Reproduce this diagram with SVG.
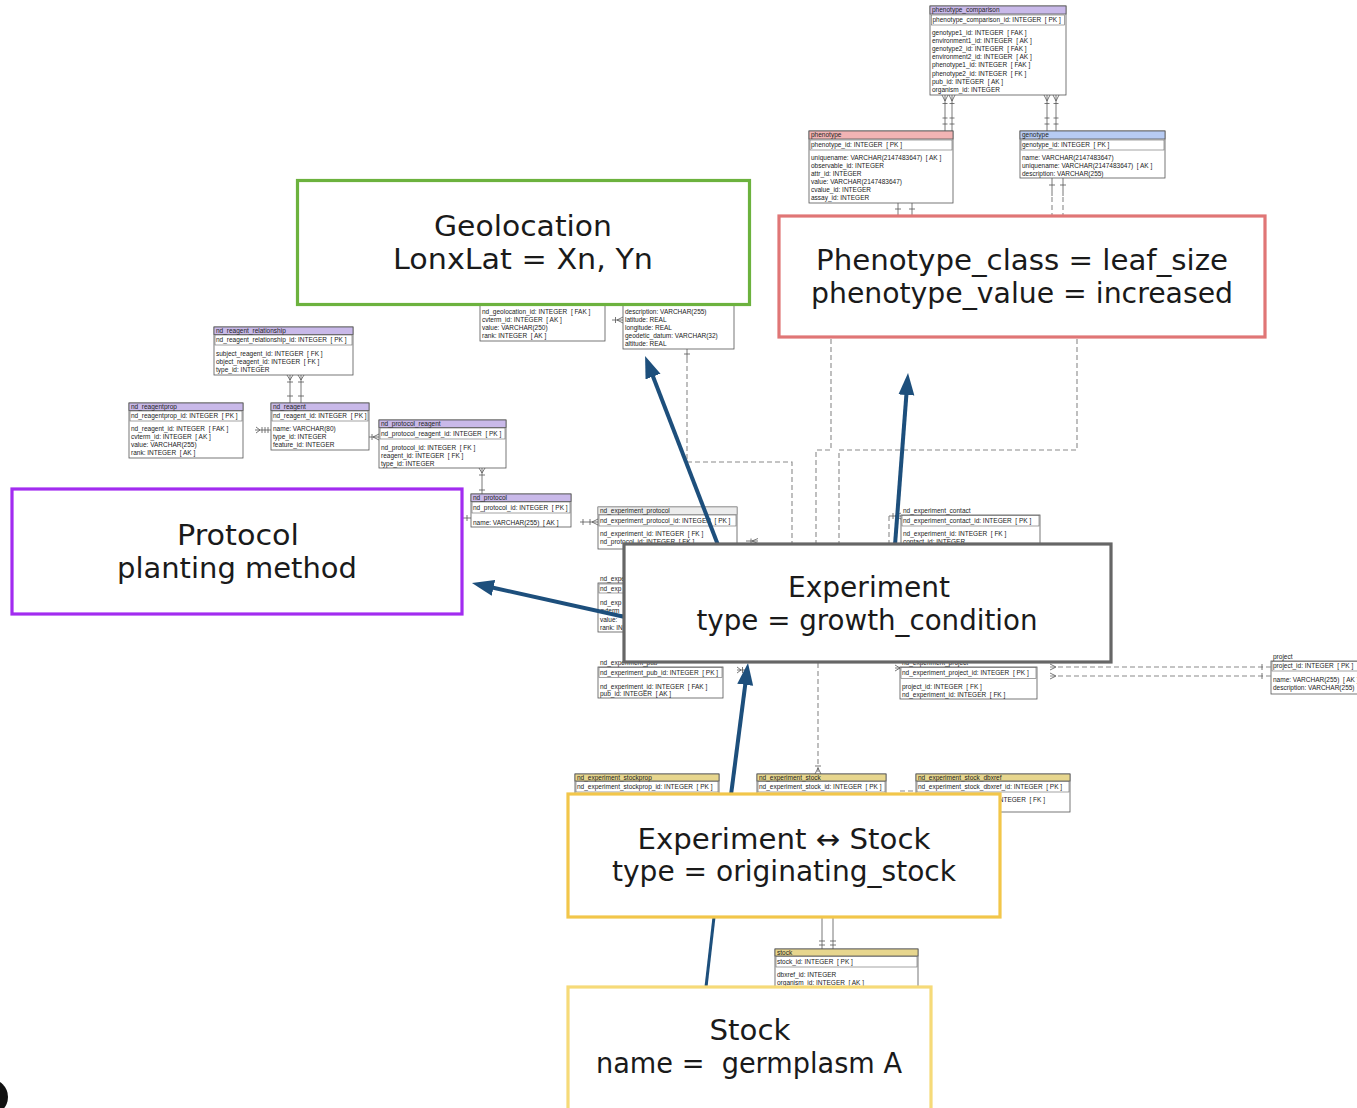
<svg xmlns="http://www.w3.org/2000/svg" width="1357" height="1108" viewBox="0 0 1357 1108">
<defs>
<style>
.t{font-family:"Liberation Sans",Arial,sans-serif;font-size:6.5px;fill:#222;white-space:pre}
.tb{fill:#fff;stroke:#555;stroke-width:.8}
.pk{fill:none;stroke:#666;stroke-width:.6}
.hp{fill:#c9b9e9;stroke:#555;stroke-width:.8}
.hr{fill:#f2b4b4;stroke:#555;stroke-width:.8}
.hb{fill:#b7cbf3;stroke:#555;stroke-width:.8}
.hy{fill:#e7d68e;stroke:#555;stroke-width:.8}
.hg{fill:#ececec;stroke:#888;stroke-width:.6}
.ln{fill:none;stroke:#555;stroke-width:.8}
.dl{fill:none;stroke:#8a8a8a;stroke-width:1.1;stroke-dasharray:5 3}
.ar{fill:none;stroke:#1d4f7c;stroke-width:4;marker-end:url(#ah)}
.bx{fill:#fff;stroke-width:3.2}
.big{font-family:"DejaVu Sans",sans-serif;font-size:28px;fill:#1a1a1a;text-anchor:middle;white-space:pre}
</style>
<marker id="ah" markerUnits="userSpaceOnUse" markerWidth="24" markerHeight="18" refX="7" refY="9" orient="auto"><path d="M0,1 L22,9 L0,17 z" fill="#1d4f7c"/></marker>
</defs>
<rect width="1357" height="1108" fill="#fff"/>

<g id="tables">
<g id="t-phenotype-comparison">
<rect class="tb" x="930" y="6" width="136" height="89"/>
<rect class="hp" x="930" y="6" width="136" height="8"/>
<text class="t" x="932" y="12.3">phenotype_comparison</text>
<rect class="pk" x="931.5" y="15" width="133" height="10"/>
<text class="t" x="932.5" y="22.2">phenotype_comparison_id: INTEGER  [ PK ]</text>
<text class="t" x="932" y="35">genotype1_id: INTEGER  [ FAK ]</text>
<text class="t" x="932" y="43.1">environment1_id: INTEGER  [ AK ]</text>
<text class="t" x="932" y="51.2">genotype2_id: INTEGER  [ FAK ]</text>
<text class="t" x="932" y="59.3">environment2_id: INTEGER  [ AK ]</text>
<text class="t" x="932" y="67.4">phenotype1_id: INTEGER  [ FAK ]</text>
<text class="t" x="932" y="75.5">phenotype2_id: INTEGER  [ FK ]</text>
<text class="t" x="932" y="83.6">pub_id: INTEGER  [ AK ]</text>
<text class="t" x="932" y="91.7">organism_id: INTEGER</text>
</g>
<g id="t-phenotype">
<rect class="tb" x="809" y="131" width="144" height="72"/>
<rect class="hr" x="809" y="131" width="144" height="8"/>
<text class="t" x="811" y="137.3">phenotype</text>
<rect class="pk" x="810" y="140" width="142" height="10"/>
<text class="t" x="811" y="147">phenotype_id: INTEGER  [ PK ]</text>
<text class="t" x="811" y="159.5">uniquename: VARCHAR(2147483647)  [ AK ]</text>
<text class="t" x="811" y="167.6">observable_id: INTEGER</text>
<text class="t" x="811" y="175.7">attr_id: INTEGER</text>
<text class="t" x="811" y="183.8">value: VARCHAR(2147483647)</text>
<text class="t" x="811" y="191.9">cvalue_id: INTEGER</text>
<text class="t" x="811" y="200">assay_id: INTEGER</text>
</g>
<g id="t-genotype">
<rect class="tb" x="1020" y="131" width="145" height="47"/>
<rect class="hb" x="1020" y="131" width="145" height="8"/>
<text class="t" x="1022" y="137.3">genotype</text>
<rect class="pk" x="1021" y="140" width="143" height="10"/>
<text class="t" x="1022" y="147">genotype_id: INTEGER  [ PK ]</text>
<text class="t" x="1022" y="159.5">name: VARCHAR(2147483647)</text>
<text class="t" x="1022" y="167.5">uniquename: VARCHAR(2147483647)  [ AK ]</text>
<text class="t" x="1022" y="175.5">description: VARCHAR(255)</text>
</g>
<g id="t-geolocationprop">
<rect class="tb" x="480" y="290" width="125" height="51"/>
<text class="t" x="482" y="314">nd_geolocation_id: INTEGER  [ FAK ]</text>
<text class="t" x="482" y="322">cvterm_id: INTEGER  [ AK ]</text>
<text class="t" x="482" y="330">value: VARCHAR(250)</text>
<text class="t" x="482" y="338">rank: INTEGER  [ AK ]</text>
</g>
<g id="t-geolocation">
<rect class="tb" x="623" y="290" width="111" height="59"/>
<text class="t" x="625" y="314">description: VARCHAR(255)</text>
<text class="t" x="625" y="322">latitude: REAL</text>
<text class="t" x="625" y="330">longitude: REAL</text>
<text class="t" x="625" y="338">geodetic_datum: VARCHAR(32)</text>
<text class="t" x="625" y="346">altitude: REAL</text>
</g>
<g id="t-reagent-relationship">
<rect class="tb" x="214" y="327" width="139" height="48"/>
<rect class="hp" x="214" y="327" width="139" height="7.5"/>
<text class="t" x="216" y="332.8">nd_reagent_relationship</text>
<rect class="pk" x="215" y="335" width="137" height="10"/>
<text class="t" x="216" y="342">nd_reagent_relationship_id: INTEGER  [ PK ]</text>
<text class="t" x="216" y="355.5">subject_reagent_id: INTEGER  [ FK ]</text>
<text class="t" x="216" y="363.5">object_reagent_id: INTEGER  [ FK ]</text>
<text class="t" x="216" y="371.5">type_id: INTEGER</text>
</g>
<g id="t-reagentprop">
<rect class="tb" x="129" y="403" width="114" height="55"/>
<rect class="hp" x="129" y="403" width="114" height="7.5"/>
<text class="t" x="131" y="408.8">nd_reagentprop</text>
<rect class="pk" x="130" y="411" width="112" height="10"/>
<text class="t" x="131" y="418">nd_reagentprop_id: INTEGER  [ PK ]</text>
<text class="t" x="131" y="431">nd_reagent_id: INTEGER  [ FAK ]</text>
<text class="t" x="131" y="439">cvterm_id: INTEGER  [ AK ]</text>
<text class="t" x="131" y="447">value: VARCHAR(255)</text>
<text class="t" x="131" y="455">rank: INTEGER  [ AK ]</text>
</g>
<g id="t-reagent">
<rect class="tb" x="271" y="403" width="98" height="47"/>
<rect class="hp" x="271" y="403" width="98" height="7.5"/>
<text class="t" x="273" y="408.8">nd_reagent</text>
<rect class="pk" x="272" y="411" width="96" height="10"/>
<text class="t" x="273" y="418">nd_reagent_id: INTEGER  [ PK ]</text>
<text class="t" x="273" y="431">name: VARCHAR(80)</text>
<text class="t" x="273" y="439">type_id: INTEGER</text>
<text class="t" x="273" y="447">feature_id: INTEGER</text>
</g>
<g id="t-protocol-reagent">
<rect class="tb" x="379" y="420" width="127" height="48"/>
<rect class="hp" x="379" y="420" width="127" height="7.5"/>
<text class="t" x="381" y="425.8">nd_protocol_reagent</text>
<rect class="pk" x="380" y="428" width="125" height="11"/>
<text class="t" x="381" y="436">nd_protocol_reagent_id: INTEGER  [ PK ]</text>
<text class="t" x="381" y="450">nd_protocol_id: INTEGER  [ FK ]</text>
<text class="t" x="381" y="458">reagent_id: INTEGER  [ FK ]</text>
<text class="t" x="381" y="466">type_id: INTEGER</text>
</g>
<g id="t-protocol">
<rect class="tb" x="471" y="494" width="100" height="33"/>
<rect class="hp" x="471" y="494" width="100" height="7.5"/>
<text class="t" x="473" y="499.8">nd_protocol</text>
<rect class="pk" x="472" y="502" width="98" height="11"/>
<text class="t" x="473" y="509.5">nd_protocol_id: INTEGER  [ PK ]</text>
<text class="t" x="473" y="524.5">name: VARCHAR(255)  [ AK ]</text>
</g>
<g id="t-experiment-protocol">
<rect class="tb" x="598" y="507" width="139" height="42"/>
<rect class="hg" x="598" y="507" width="139" height="7.5"/>
<text class="t" x="600" y="512.8">nd_experiment_protocol</text>
<rect class="pk" x="599" y="515" width="137" height="11"/>
<text class="t" x="600" y="522.5">nd_experiment_protocol_id: INTEGER  [ PK ]</text>
<text class="t" x="600" y="535.5">nd_experiment_id: INTEGER  [ FK ]</text>
<text class="t" x="600" y="544">nd_protocol_id: INTEGER  [ FK ]</text>
</g>
<g id="t-experimentprop">
<rect class="tb" x="598" y="583" width="60" height="49"/>
<text class="t" x="600" y="580.5">nd_expe</text>
<rect class="pk" x="599" y="584" width="58" height="9"/>
<text class="t" x="600" y="590.5">nd_exp</text>
<text class="t" x="600" y="604.5">nd_exp</text>
<text class="t" x="600" y="613">cvterm_</text>
<text class="t" x="600" y="621.5">value:</text>
<text class="t" x="600" y="630">rank: IN</text>
</g>
<g id="t-experiment-pub">
<rect class="tb" x="598" y="667" width="125" height="31"/>
<text class="t" x="600" y="665">nd_experiment_pub</text>
<rect class="pk" x="599" y="667.5" width="123" height="10"/>
<text class="t" x="600" y="674.5">nd_experiment_pub_id: INTEGER  [ PK ]</text>
<text class="t" x="600" y="688.5">nd_experiment_id: INTEGER  [ FAK ]</text>
<text class="t" x="600" y="696">pub_id: INTEGER  [ AK ]</text>
</g>
<g id="t-experiment-contact">
<rect class="tb" x="901" y="515" width="139" height="34"/>
<text class="t" x="903" y="513">nd_experiment_contact</text>
<rect class="pk" x="902" y="515.5" width="137" height="10.5"/>
<text class="t" x="903" y="522.5">nd_experiment_contact_id: INTEGER  [ PK ]</text>
<text class="t" x="903" y="535.5">nd_experiment_id: INTEGER  [ FK ]</text>
<text class="t" x="903" y="543.8">contact_id: INTEGER</text>
</g>
<g id="t-experiment-project">
<rect class="tb" x="900" y="667" width="137" height="32"/>
<text class="t" x="902" y="665">nd_experiment_project</text>
<rect class="pk" x="901" y="667.5" width="135" height="11"/>
<text class="t" x="902" y="675">nd_experiment_project_id: INTEGER  [ PK ]</text>
<text class="t" x="902" y="689">project_id: INTEGER  [ FK ]</text>
<text class="t" x="902" y="697">nd_experiment_id: INTEGER  [ FK ]</text>
</g>
<g id="t-project">
<rect class="tb" x="1271" y="661" width="95" height="33"/>
<text class="t" x="1273" y="659.3">project</text>
<rect class="pk" x="1272" y="661.5" width="94" height="9.5"/>
<text class="t" x="1273" y="668.3">project_id: INTEGER  [ PK ]</text>
<text class="t" x="1273" y="682">name: VARCHAR(255)  [ AK ]</text>
<text class="t" x="1273" y="690">description: VARCHAR(255)</text>
</g>
<g id="t-experiment-stockprop">
<rect class="tb" x="575" y="774" width="144" height="30"/>
<rect class="hy" x="575" y="774" width="144" height="7"/>
<text class="t" x="577" y="779.5">nd_experiment_stockprop</text>
<rect class="pk" x="576" y="781.5" width="142" height="10.5"/>
<text class="t" x="577" y="788.8">nd_experiment_stockprop_id: INTEGER  [ PK ]</text>
</g>
<g id="t-experiment-stock">
<rect class="tb" x="757" y="774" width="129" height="30"/>
<rect class="hy" x="757" y="774" width="129" height="7"/>
<text class="t" x="759" y="779.5">nd_experiment_stock</text>
<rect class="pk" x="758" y="781.5" width="127" height="10.5"/>
<text class="t" x="759" y="788.8">nd_experiment_stock_id: INTEGER  [ PK ]</text>
</g>
<g id="t-experiment-stock-dbxref">
<rect class="tb" x="916" y="774" width="154" height="38"/>
<rect class="hy" x="916" y="774" width="154" height="7"/>
<text class="t" x="918" y="779.5">nd_experiment_stock_dbxref</text>
<rect class="pk" x="917" y="781.5" width="152" height="10.5"/>
<text class="t" x="918" y="788.8">nd_experiment_stock_dbxref_id: INTEGER  [ PK ]</text>
<text class="t" x="997" y="802">INTEGER  [ FK ]</text>
</g>
<g id="t-stock">
<rect class="tb" x="775" y="949" width="143" height="42"/>
<rect class="hy" x="775" y="949" width="143" height="7"/>
<text class="t" x="777" y="954.5">stock</text>
<rect class="pk" x="776" y="956.5" width="141" height="10.5"/>
<text class="t" x="777" y="964">stock_id: INTEGER  [ PK ]</text>
<text class="t" x="777" y="976.5">dbxref_id: INTEGER</text>
<text class="t" x="777" y="984.5">organism_id: INTEGER  [ AK ]</text>
</g>
</g>

<g id="connectors">
<path class="ln" d="M945,95V131M952,95V131M942,95L945,101L948,95M949,95L952,101L955,95M942.5,103.5H947.5M949.5,103.5H954.5M942.5,118H947.5M949.5,118H954.5M942.5,124H947.5M949.5,124H954.5"/>
<path class="ln" d="M1047,95V131M1056,95V131M1044,95L1047,101L1050,95M1053,95L1056,101L1059,95M1044.5,103.5H1049.5M1053.5,103.5H1058.5M1044.5,118H1049.5M1053.5,118H1058.5M1044.5,124H1049.5M1053.5,124H1058.5"/>
<path class="ln" d="M898,203V216M912,203V216M895,209H901M909,209H915"/>
<path class="ln" d="M1052,178V196M1063,178V196M1049,185H1055M1060,185H1066"/>
<path class="dl" d="M1052,197V216M1063,197V216"/>
<path class="ln" d="M687,349V358M684,354H690"/>
<path class="dl" d="M687,358V462H792V544"/>
<path class="dl" d="M831,339V450H816V544"/>
<path class="dl" d="M1077,339V450H839V544"/>
<path class="ln" d="M889,516H901M895,516L901,513M895,516L901,519M893,513V519"/>
<path class="dl" d="M889,516V544"/>
<path class="ln" d="M612,320H623M617,320L623,317M617,320L623,323M615.5,317V323"/>
<path class="ln" d="M290,375V403M301,375V403M287,375L290,380L293,375M298,375L301,380L304,375M287,382H293M298,382H304M287,396H293M298,396H304"/>
<path class="ln" d="M255,430H271M256,427L260,430L256,433M262,427V433M265,427V433M268,427V433"/>
<path class="ln" d="M369,437H379M373,437L379,434M373,437L379,440M372,434V440"/>
<path class="ln" d="M482,468V494M479,468L482,473L485,468M479,475H485M479,490H485"/>
<path class="ln" d="M463,518H471M467,515V521"/>
<path class="ln" d="M580,522H598M583,519V525M590,519V525M592,522L598,519M592,522L598,525"/>
<path class="ln" d="M746,541H758M752,541L758,538.5M752,541L758,543.5M751,538.5V543.5"/>
<path class="ln" d="M737,670H746M741,670L737,667M741,670L737,673M742.5,667V673"/>
<path class="ln" d="M895,668H900M895,665L900,668L895,671"/>
<path class="dl" d="M1050,667H1271M1050,676H1271"/>
<path class="ln" d="M1050,664L1056,667L1050,670M1050,673L1056,676L1050,679M1262,664V670M1262,673V679"/>
<path class="dl" d="M818,663V774"/>
<path class="ln" d="M815,774L818,768L821,774M815,766H821"/>
<path class="ln" d="M822,917V949M833,917V949M819,945H825M830,945H836M819,941H825M830,941H836"/>
<path class="dl" d="M900,791H913"/>
<path class="ar" d="M718,545L650.5,370"/>
<path class="ar" d="M895,545L906.9,388"/>
<path class="ar" d="M625,617L486.6,586.3"/>
<path class="ar" d="M731,795L746.1,677.9"/>
<path fill="none" stroke="#1d4f7c" stroke-width="3" d="M706,987L714,917"/>
</g>

<g id="geolocation">
<rect class="bx" x="297.5" y="180.5" width="452" height="124" stroke="#6cb23e"/>
<text class="big" x="523" y="236" textLength="178" lengthAdjust="spacingAndGlyphs">Geolocation</text>
<text class="big" x="523" y="269" textLength="260" lengthAdjust="spacingAndGlyphs">LonxLat = Xn, Yn</text>
</g>
<g id="phenotype-class">
<rect class="bx" x="779" y="216" width="486" height="121" stroke="#e07676"/>
<text class="big" x="1022" y="270" textLength="412" lengthAdjust="spacingAndGlyphs">Phenotype_class = leaf_size</text>
<text class="big" x="1022" y="303" textLength="422" lengthAdjust="spacingAndGlyphs">phenotype_value = increased</text>
</g>
<g id="protocol-box">
<rect class="bx" x="12" y="489" width="450" height="125" stroke="#a22cf0" stroke-width="3.6"/>
<text class="big" x="238" y="545" textLength="122" lengthAdjust="spacingAndGlyphs">Protocol</text>
<text class="big" x="237" y="578" textLength="240" lengthAdjust="spacingAndGlyphs">planting method</text>
</g>
<g id="experiment">
<rect class="bx" x="624" y="544" width="487" height="118" stroke="#666" stroke-width="3.4"/>
<text class="big" x="869" y="597" textLength="162" lengthAdjust="spacingAndGlyphs">Experiment</text>
<text class="big" x="867" y="630" textLength="341" lengthAdjust="spacingAndGlyphs">type = growth_condition</text>
</g>
<g id="experiment-stock">
<rect class="bx" x="568" y="794" width="432" height="123" stroke="#f2c64a" stroke-width="3.6"/>
<text class="big" x="784" y="849" textLength="293" lengthAdjust="spacingAndGlyphs">Experiment ↔ Stock</text>
<text class="big" x="784" y="881" textLength="344" lengthAdjust="spacingAndGlyphs">type = originating_stock</text>
</g>
<g id="stock-box">
<rect class="bx" x="568" y="987" width="363" height="130" stroke="#f6da78"/>
<text class="big" x="750" y="1040" textLength="81" lengthAdjust="spacingAndGlyphs">Stock</text>
<text class="big" x="749" y="1073" textLength="306" lengthAdjust="spacingAndGlyphs">name =  germplasm A</text>
</g>
<circle cx="-10" cy="1097" r="18" fill="#111"/>
</svg>
